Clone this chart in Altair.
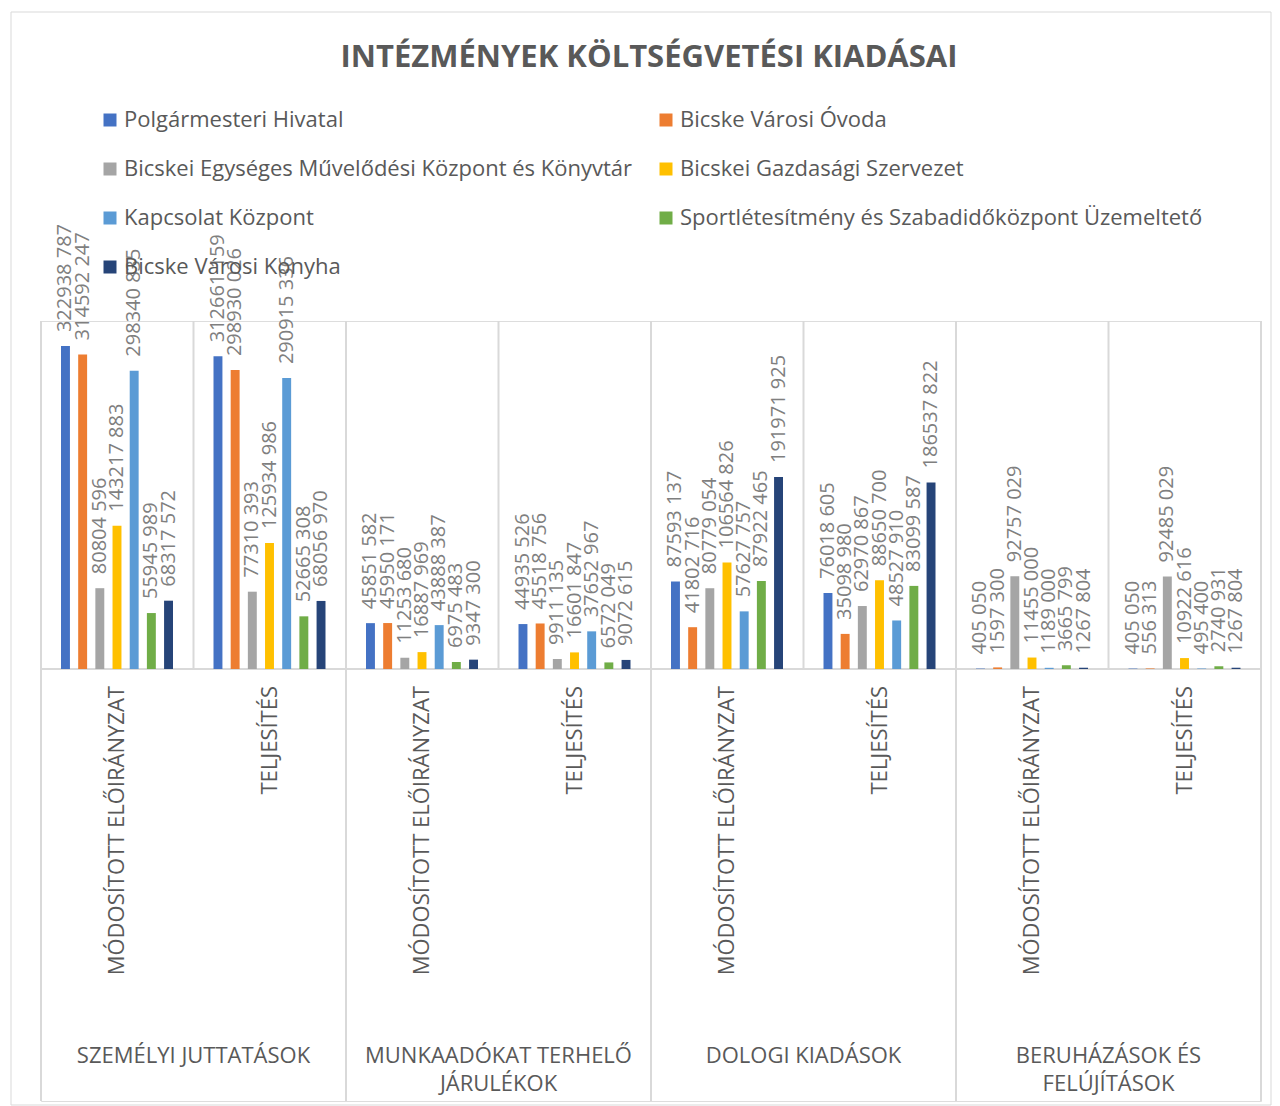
import altair as alt
import pandas as pd

title_text = "INTÉZMÉNYEK KÖLTSÉGVETÉSI KIADÁSAI"
groups = ["SZEMÉLYI JUTTATÁSOK", "MUNKAADÓKAT TERHELŐ JÁRULÉKOK", "DOLOGI KIADÁSOK", "BERUHÁZÁSOK ÉS FELÚJÍTÁSOK"]
group_lines = ["SZEMÉLYI JUTTATÁSOK", "MUNKAADÓKAT TERHELŐ\nJÁRULÉKOK", "DOLOGI KIADÁSOK", "BERUHÁZÁSOK ÉS\nFELÚJÍTÁSOK"]
subs = ["MÓDOSÍTOTT ELŐIRÁNYZAT", "TELJESÍTÉS"]
series = [
    "Polgármesteri Hivatal",
    "Bicske Városi Óvoda",
    "Bicskei Egységes Művelődési Központ és Könyvtár",
    "Bicskei Gazdasági Szervezet",
    "Kapcsolat Központ",
    "Sportlétesítmény és Szabadidőközpont Üzemeltető",
    "Bicske Városi Konyha",
]
colors = ["#4472C4", "#ED7D31", "#A5A5A5", "#FFC000", "#5B9BD5", "#70AD47", "#264478"]

# values per (group, sub), in series order
szemelyi_mod = [322938787, 314592247, 80804596, 143217883, 298340835, 55945989, 68317572]
szemelyi_telj = [312661159, 298930026, 77310393, 125934986, 290915336, 52665308, 68056970]
munkaado_mod = [45851582, 45950171, 11253680, 16887969, 43888387, 6975483, 9347300]
munkaado_telj = [44935526, 45518756, 9911135, 16601847, 37652967, 6572049, 9072615]
dologi_mod = [87593137, 41802716, 80779054, 106564826, 57627757, 87922465, 191971925]
dologi_telj = [76018605, 35098980, 62970867, 88650700, 48527910, 83099587, 186537822]
beruh_mod = [405050, 1597300, 92757029, 11455000, 1189000, 3665799, 1267804]
beruh_telj = [405050, 556313, 92485029, 10922616, 495400, 2740931, 1267804]

table = [
    (szemelyi_mod, szemelyi_telj),
    (munkaado_mod, munkaado_telj),
    (dologi_mod, dologi_telj),
    (beruh_mod, beruh_telj),
]

FONT = "Open Sans"
TXT = "#595959"
GRID = "#D9D9D9"


def fmt(v):
    return f"{v // 1000} {v % 1000:03d}"


rows = []
keys = []
for gi, g in enumerate(groups):
    for si, s in enumerate(subs):
        key = f"{g}|{s}"
        keys.append(key)
        for k, ser in enumerate(series):
            v = table[gi][si][k]
            rows.append({"key": key, "series": ser, "value": v, "label": fmt(v)})
df = pd.DataFrame(rows)

W, H = 1220, 780
BASE = 348  # pixel of zero line
x_scale = alt.Scale(domain=keys, paddingInner=0, paddingOuter=0)
y_scale = alt.Scale(domain=[-432e6, 348e6], nice=False, zero=False)
xo_scale = alt.Scale(domain=series, range=[20, 132], paddingInner=0.48, paddingOuter=0)

base = alt.Chart(df)

bars = base.mark_bar().encode(
    x=alt.X("key:N", scale=x_scale, axis=None, sort=keys),
    xOffset=alt.XOffset("series:N", scale=xo_scale, sort=series),
    y=alt.Y("value:Q", scale=y_scale, axis=None),
    color=alt.Color(
        "series:N",
        scale=alt.Scale(domain=series, range=colors),
        sort=series,
        legend=alt.Legend(
            title=None,
            orient="none",
            direction="horizontal",
            legendX=58,
            legendY=-212,
            padding=0,
            columns=2,
            columnPadding=22,
            rowPadding=27,
            symbolType="square",
            symbolSize=169,
            symbolStrokeWidth=0,
            labelFont=FONT,
            labelFontSize=22,
            labelColor=TXT,
            labelOffset=3,
            labelLimit=800,
        ),
    ),
)

labels = base.mark_text(
    angle=270, align="left", baseline="middle", dx=14, font=FONT, fontSize=20, color="#7F7F7F"
).encode(
    x=alt.X("key:N", scale=x_scale, axis=None, sort=keys),
    xOffset=alt.XOffset("series:N", scale=xo_scale, sort=series),
    y=alt.Y("value:Q", scale=y_scale, axis=None),
    text="label:N",
)

keys_df = pd.DataFrame({"key": keys, "sub": [k.split("|")[1] for k in keys]})
last_df = pd.DataFrame({"key": [keys[-1]]})
grp_start_df = pd.DataFrame({"key": [f"{g}|{subs[0]}" for g in groups]})
grp_mid_df = pd.DataFrame({"key": [f"{g}|{subs[1]}" for g in groups], "glabel": group_lines})
title_df = pd.DataFrame({"t": [title_text]})

grid_a = alt.Chart(keys_df).mark_rule(color=GRID, strokeWidth=2).encode(
    x=alt.X("key:N", scale=x_scale, axis=None, sort=keys, bandPosition=0),
    y=alt.value(0), y2=alt.value(BASE),
)
grid_b = alt.Chart(last_df).mark_rule(color=GRID, strokeWidth=2).encode(
    x=alt.X("key:N", scale=x_scale, axis=None, sort=keys, bandPosition=1),
    y=alt.value(0), y2=alt.value(H),
)
sep = alt.Chart(grp_start_df).mark_rule(color=GRID, strokeWidth=2).encode(
    x=alt.X("key:N", scale=x_scale, axis=None, sort=keys, bandPosition=0),
    y=alt.value(BASE), y2=alt.value(H),
)
axis_line = alt.Chart(last_df).mark_rule(color=GRID, strokeWidth=2).encode(
    x=alt.value(0), x2=alt.value(W), y=alt.value(BASE),
)
sub_text = alt.Chart(keys_df).mark_text(
    angle=270, align="right", baseline="middle", font=FONT, fontSize=22, color=TXT
).encode(
    x=alt.X("key:N", scale=x_scale, axis=None, sort=keys),
    y=alt.value(365),
    text="sub:N",
)
grp_text = alt.Chart(grp_mid_df).mark_text(
    align="center", baseline="top", lineBreak="\n", lineHeight=28, font=FONT, fontSize=22, color=TXT
).encode(
    x=alt.X("key:N", scale=x_scale, axis=None, sort=keys, bandPosition=0),
    y=alt.value(725),
    text="glabel:N",
)
title = alt.Chart(title_df).mark_text(
    align="center", baseline="middle", font=FONT, fontSize=31, fontWeight="bold", color=TXT
).encode(
    x=alt.value(608), y=alt.value(-263), text="t:N",
)
frame = alt.Chart(last_df).mark_rect(fillOpacity=0, stroke=GRID, strokeWidth=1).encode(
    x=alt.value(-30), x2=alt.value(1230), y=alt.value(-309), y2=alt.value(784),
)

chart = alt.layer(
    frame, grid_a, grid_b, sep, axis_line, bars, labels, sub_text, grp_text, title
).properties(
    width=W,
    height=H,
    padding={"left": 2, "top": 3, "right": 0, "bottom": 0},
).configure_view(stroke=None).configure(background="white")

chart.save("out.html", embed_options={"renderer": "svg", "actions": False})
